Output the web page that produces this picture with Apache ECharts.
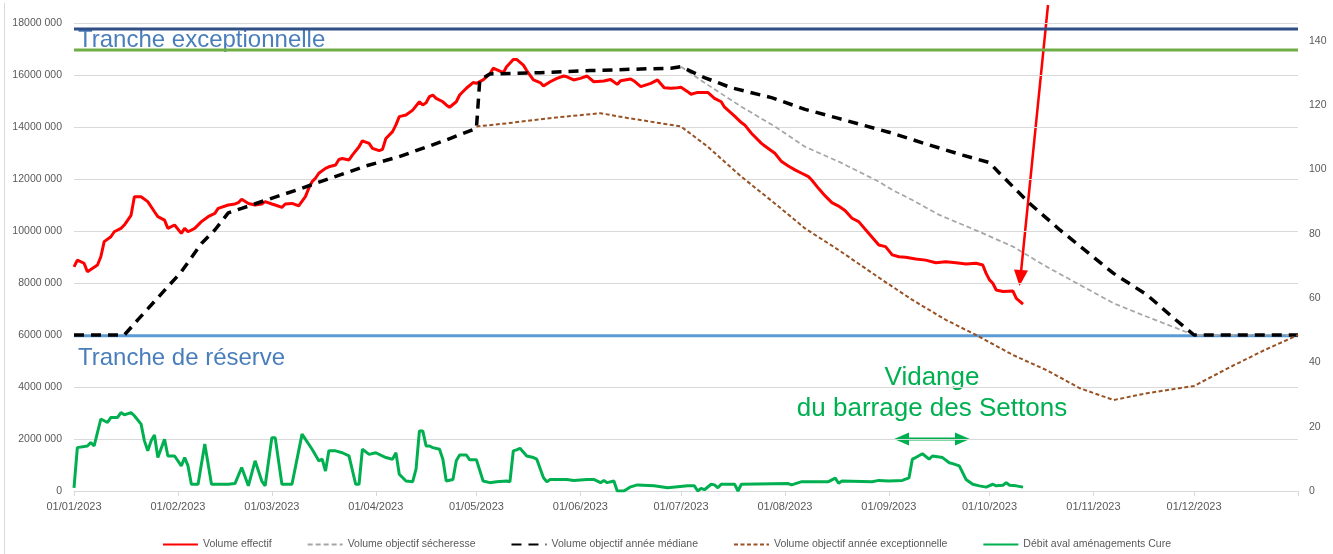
<!DOCTYPE html>
<html>
<head>
<meta charset="utf-8">
<script src="https://cdn.jsdelivr.net/npm/echarts@6/dist/echarts.min.js"></script>
<style>
  html, body { margin: 0; padding: 0; background: #fff; }
  #chart { width: 1333px; height: 554px; }
</style>
</head>
<body>
<div id="chart"></div>
<script>
// volumes en millions de m3 (axe gauche), débit en m3/s (axe droit)
// points : [jour de l'année (0 = 01/01/2023), valeur]
const volumeEffectif = [
  [0, 8.62], [1, 8.88], [3, 8.76], [4, 8.43], [7, 8.69], [8, 9.01], [9, 9.59], [11, 9.78], [12, 9.97],
  [14, 10.1], [15, 10.23], [17, 10.6], [18, 11.32], [20, 11.32], [22, 11.13], [24, 10.74], [25, 10.55],
  [27, 10.42], [28, 10.1], [30, 10.23], [32, 9.91], [33, 10.1], [34, 9.97], [36, 10.1], [38, 10.36],
  [40, 10.55], [42, 10.68], [43, 10.87], [46, 11.0], [48, 11.04], [49, 11.09], [50, 11.22], [52, 11.06],
  [54, 11.0], [56, 11.04], [57, 11.13], [59, 11.04], [60, 11.0], [62, 10.91], [63, 11.04], [65, 11.06],
  [67, 10.97], [69, 11.32], [70, 11.64], [71, 11.9], [72, 12.03], [73, 12.22], [75, 12.41], [76, 12.47],
  [78, 12.54], [79, 12.75], [80, 12.79], [82, 12.73], [83, 12.92], [85, 13.24], [86, 13.47], [88, 13.37],
  [89, 13.18], [91, 13.09], [92, 13.14], [93, 13.56], [95, 13.82], [96, 14.08], [97, 14.4], [99, 14.46],
  [101, 14.65], [103, 14.97], [104, 14.85], [105, 14.93], [106, 15.17], [107, 15.23], [108, 15.1],
  [110, 14.97], [111, 14.85], [112, 14.76], [114, 14.97], [115, 15.23], [117, 15.49], [119, 15.71],
  [120, 15.68], [122, 15.81], [124, 16.04], [125, 16.26], [128, 16.09], [129, 16.32], [131, 16.6],
  [132, 16.6], [134, 16.38], [135, 16.17], [137, 15.81], [139, 15.71], [140, 15.58], [142, 15.74],
  [144, 15.87], [146, 15.96], [147, 15.93], [149, 15.81], [151, 15.87], [153, 15.96], [155, 15.74],
  [158, 15.77], [160, 15.83], [162, 15.64], [163, 15.78], [166, 15.85], [167, 15.77], [169, 15.55],
  [172, 15.68], [174, 15.81], [176, 15.51], [178, 15.49], [180, 15.51], [181, 15.53], [183, 15.36],
  [184, 15.26], [186, 15.33], [189, 15.33], [191, 15.1], [193, 14.97], [194, 14.76], [197, 14.42],
  [199, 14.17], [200, 14.08], [202, 13.76], [205, 13.37], [206, 13.27], [209, 12.99], [211, 12.67],
  [213, 12.5], [215, 12.35], [217, 12.22], [219, 12.09], [220, 11.96], [222, 11.64], [224, 11.35],
  [226, 11.09], [228, 10.96], [230, 10.78], [232, 10.49], [234, 10.36], [236, 10.06], [238, 9.76],
  [240, 9.46], [242, 9.4], [244, 9.08], [246, 9.01], [248, 8.99], [251, 8.92], [254, 8.88], [257, 8.78],
  [260, 8.82], [263, 8.78], [266, 8.73], [269, 8.76], [271, 8.69], [272, 8.37], [273, 8.12], [274, 7.99],
  [275, 7.73], [277, 7.67], [280, 7.69], [281, 7.41], [283, 7.19]
];

const objectifSecheresse = [
  [181, 16.32], [189, 15.62], [199, 14.78], [209, 14.02], [218, 13.24], [228, 12.67], [240, 11.9],
  [244, 11.58], [250, 11.19], [258, 10.62], [270, 9.97], [280, 9.4], [290, 8.63], [310, 7.22],
  [320, 6.7], [334, 6.0], [365, 6.0]
];

const objectifMediane = [
  [0, 6.0], [15, 6.0], [19, 6.58], [32, 8.43], [38, 9.52], [42, 10.04], [46, 10.7], [50, 10.87],
  [58, 11.22], [67, 11.6], [72, 11.83], [87, 12.5], [97, 12.86], [111, 13.5], [120, 13.95], [121, 15.8],
  [124, 16.04], [139, 16.09], [154, 16.17], [169, 16.23], [178, 16.26], [181, 16.32], [188, 15.9],
  [196, 15.51], [208, 15.13], [218, 14.68], [228, 14.33], [243, 13.8], [255, 13.31], [265, 12.92],
  [273, 12.63], [276, 12.22], [285, 11.06], [294, 10.04], [310, 8.37], [320, 7.54], [328, 6.64],
  [334, 6.0], [365, 6.0]
];

const objectifExceptionnel = [
  [120, 14.02], [129, 14.14], [144, 14.37], [157, 14.53], [164, 14.37], [181, 14.02], [189, 13.24],
  [199, 12.09], [209, 11.06], [218, 10.1], [228, 9.27], [241, 8.12], [250, 7.35], [260, 6.58],
  [269, 6.0], [280, 5.23], [290, 4.65], [300, 3.95], [310, 3.5], [320, 3.76], [334, 4.04],
  [345, 4.78], [355, 5.42], [365, 6.0]
];

const debitCure = [
  [0, 1.0], [1, 13.5], [4, 14.0], [5, 15.1], [6, 14.0], [8, 22.4], [10, 21.3], [11, 22.9], [13, 22.9],
  [14, 24.4], [15, 23.7], [17, 24.4], [18, 23.4], [20, 20.8], [21, 15.6], [22, 12.5], [23, 15.6],
  [24, 17.4], [25, 10.4], [27, 16.1], [28, 10.9], [30, 10.9], [32, 7.8], [33, 10.4], [34, 7.8],
  [35, 2.1], [37, 2.1], [39, 14.6], [41, 2.1], [46, 2.1], [48, 2.3], [50, 7.3], [52, 1.6], [54, 9.4],
  [56, 3.1], [57, 1.6], [59, 16.6], [60, 16.6], [62, 2.1], [65, 2.1], [68, 17.7], [71, 13.0], [73, 9.4],
  [74, 9.9], [75, 6.2], [76, 12.5], [78, 12.5], [80, 11.9], [82, 10.9], [84, 2.1], [85, 2.1], [86, 13.0],
  [88, 11.4], [90, 11.9], [93, 10.4], [95, 9.9], [96, 11.9], [97, 5.2], [99, 3.1], [101, 2.9], [102, 6.8],
  [103, 18.7], [104, 18.7], [105, 14.0], [106, 14.0], [107, 13.5], [109, 13.0], [110, 9.9], [111, 3.1],
  [113, 3.6], [114, 9.4], [115, 11.2], [117, 11.2], [118, 9.7], [120, 9.7], [122, 3.1], [124, 2.6],
  [126, 2.9], [129, 3.1], [130, 2.9], [131, 12.5], [132, 12.8], [133, 13.3], [135, 10.9], [137, 10.4],
  [138, 9.9], [140, 4.1], [141, 2.9], [142, 3.6], [147, 3.6], [149, 3.3], [153, 3.6], [155, 3.6],
  [157, 2.6], [158, 3.3], [159, 2.6], [161, 3.1], [162, 0], [164, 0], [166, 1.3], [168, 1.9], [173, 1.6],
  [177, 1.0], [183, 1.6], [185, 1.6], [186, 0], [187, 0.8], [188, 0.4], [190, 2.1], [191, 1.9],
  [192, 1.0], [193, 2.1], [197, 2.1], [198, 0], [199, 2.1], [213, 2.3], [214, 1.9], [217, 2.9],
  [225, 2.9], [227, 4.0], [228, 2.4], [229, 3.1], [238, 2.9], [240, 3.3], [243, 3.1], [247, 3.3],
  [249, 4.1], [250, 9.9], [251, 10.4], [253, 11.6], [255, 9.9], [256, 10.9], [259, 10.4], [261, 8.8],
  [262, 8.5], [264, 7.8], [266, 3.6], [268, 2.1], [270, 1.6], [272, 1.2], [274, 2.1], [275, 1.6],
  [277, 1.8], [278, 2.6], [279, 1.8], [281, 1.6], [283, 1.2]
];

// limites des tranches (millions de m3)
const trancheLevels = [17.77, 16.96, 5.97];
const trancheColors = ["#2F4F85", "#70AD47", "#5B9BD5"];

// catégories : un jour par point, du 01/01/2023 au 01/01/2024
const days = [];
for (let i = 0; i <= 365; i++) {
  const d = new Date(Date.UTC(2023, 0, 1 + i));
  const dd = String(d.getUTCDate()).padStart(2, "0");
  const mm = String(d.getUTCMonth() + 1).padStart(2, "0");
  days.push(dd + "/" + mm + "/" + d.getUTCFullYear());
}

const FONT = "Liberation Sans";
const isMonthStart = (index, value) => value.slice(0, 2) === "01";

const trancheSeries = trancheLevels.map((v, i) => ({
  name: "tranche" + i,
  type: "line",
  symbol: "none",
  silent: true,
  lineStyle: { color: trancheColors[i], width: 3 },
  data: [[0, v], [days.length - 1, v]]
}));

const option = {
  animation: false,
  backgroundColor: "#fff",
  grid: { left: 74, right: 35, top: 23, bottom: 63 },
  legend: {
    data: [
      "Volume effectif",
      "Volume objectif sécheresse",
      "Volume objectif année médiane",
      "Volume objectif année exceptionnelle",
      "Débit aval aménagements Cure"
    ],
    top: 534,
    left: "center",
    itemWidth: 35,
    itemHeight: 12,
    itemGap: 35,
    itemStyle: { opacity: 0 },
    textStyle: { color: "#595959", fontSize: 10.5, fontFamily: FONT }
  },
  xAxis: {
    type: "category",
    boundaryGap: false,
    data: days,
    axisLine: { lineStyle: { color: "#D9D9D9", width: 1 } },
    axisTick: {
      show: true,
      length: 5,
      interval: isMonthStart,
      lineStyle: { color: "#D9D9D9" }
    },
    axisLabel: {
      interval: (index, value) => isMonthStart(index, value) && index < days.length - 1,
      color: "#595959",
      fontSize: 11,
      fontFamily: FONT,
      margin: 10
    },
    splitLine: { show: false }
  },
  yAxis: [
    {
      type: "value",
      min: 0,
      max: 18,
      interval: 2,
      axisLine: { show: false },
      axisTick: { show: false },
      axisLabel: {
        color: "#595959",
        fontSize: 10.5,
        fontFamily: FONT,
        margin: 12,
        formatter: v => (v === 0 ? "0" : v * 1000 + " 000")
      },
      splitLine: { lineStyle: { color: "#D9D9D9", width: 1 } }
    },
    {
      type: "value",
      position: "right",
      min: 0,
      max: 145.6,
      interval: 20,
      axisLine: { show: false },
      axisTick: { show: false },
      axisLabel: {
        color: "#595959",
        fontSize: 10.5,
        fontFamily: FONT,
        margin: 11,
        formatter: v => (v % 20 === 0 ? String(v) : "")
      },
      splitLine: { show: false }
    }
  ],
  series: trancheSeries.concat([
    {
      name: "Volume effectif",
      type: "line",
      symbol: "none",
      lineStyle: { color: "#FF0000", width: 3 },
      itemStyle: { color: "#FF0000" },
      data: volumeEffectif
    },
    {
      name: "Volume objectif sécheresse",
      type: "line",
      symbol: "none",
      lineStyle: { color: "#A6A6A6", width: 1.75, type: [5, 3] },
      itemStyle: { color: "#A6A6A6" },
      data: objectifSecheresse
    },
    {
      name: "Volume objectif année médiane",
      type: "line",
      symbol: "none",
      lineStyle: { color: "#000000", width: 3.5, type: [10, 7] },
      itemStyle: { color: "#000000" },
      data: objectifMediane
    },
    {
      name: "Volume objectif année exceptionnelle",
      type: "line",
      symbol: "none",
      lineStyle: { color: "#985224", width: 2, type: [4, 2.5] },
      itemStyle: { color: "#985224" },
      data: objectifExceptionnel
    },
    {
      name: "Débit aval aménagements Cure",
      type: "line",
      yAxisIndex: 1,
      symbol: "none",
      lineStyle: { color: "#00B050", width: 3 },
      itemStyle: { color: "#00B050" },
      data: debitCure
    }
  ]),
  graphic: [
    // bord du graphique
    { type: "line", shape: { x1: 4.5, y1: 3, x2: 4.5, y2: 554 }, style: { stroke: "#D9D9D9", lineWidth: 1 } },
    // libellés des tranches
    { type: "text", x: 78, y: 40.7, style: { text: "Tranche exceptionnelle", font: "24px '" + FONT + "'", fill: "#4A7EBB", verticalAlign: "middle" } },
    { type: "text", x: 78, y: 358.4, style: { text: "Tranche de réserve", font: "24px '" + FONT + "'", fill: "#4A7EBB", verticalAlign: "middle" } },
    // vidange des Settons
    { type: "text", x: 932, y: 377.7, style: { text: "Vidange", font: "26px '" + FONT + "'", fill: "#00B050", align: "center", verticalAlign: "middle" } },
    { type: "text", x: 932, y: 409.3, style: { text: "du barrage des Settons", font: "26px '" + FONT + "'", fill: "#00B050", align: "center", verticalAlign: "middle" } },
    { type: "line", shape: { x1: 905, y1: 439, x2: 959, y2: 439 }, style: { stroke: "#00B050", lineWidth: 3 } },
    { type: "polygon", shape: { points: [[894, 439], [909, 432.5], [909, 445.5]] }, style: { fill: "#00B050" } },
    { type: "polygon", shape: { points: [[970, 439], [955, 432.5], [955, 445.5]] }, style: { fill: "#00B050" } },
    // flèche rouge
    { type: "line", shape: { x1: 1048, y1: 5, x2: 1021, y2: 272 }, style: { stroke: "#FF0000", lineWidth: 2.5 } },
    { type: "polygon", shape: { points: [[1019.5, 286], [1028, 270.5], [1014, 269.5]] }, style: { fill: "#FF0000" } }
  ]
};

const chart = echarts.init(document.getElementById("chart"));
chart.setOption(option);
</script>
</body>
</html>
